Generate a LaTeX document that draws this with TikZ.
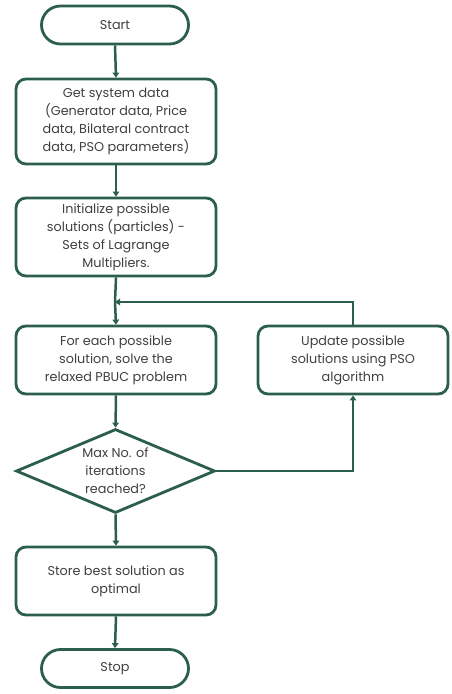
\documentclass[tikz,border=0pt]{standalone}
\usepackage{fontspec}
\setmainfont{Poppins}
\usetikzlibrary{shapes.geometric,arrows.meta}
\definecolor{lc}{HTML}{2B5E4D}
\definecolor{tc}{HTML}{404040}
\tikzset{
  box/.style={draw=lc, line width=2.8pt, rounded corners=10pt, fill=white, text=tc, align=center, minimum width=200pt, inner sep=1pt, font=\fontsize{12.8}{18}\selectfont},
  term/.style={draw=lc, line width=2.8pt, rounded corners=19pt, fill=white, text=tc, align=center, minimum width=147pt, minimum height=38pt, font=\fontsize{12.8}{18}\selectfont},
  dec/.style={draw=lc, line width=2.8pt, diamond, fill=white, minimum width=199pt, minimum height=84pt, inner sep=0pt},
  txt/.style={text=tc, align=center, font=\fontsize{12.8}{18}\selectfont},
  arr/.style={draw=lc, line width=2.5pt, -{Triangle[length=5pt,width=6.5pt]}},
  ln/.style={draw=lc, line width=2.5pt}
}
\begin{document}
\begin{tikzpicture}[x=1pt,y=-1pt]
\useasboundingbox (0,0) rectangle (451,694);
\node[term] (start) at (115,25) {Start};
\node[box, minimum height=85pt] (get) at (116,121.5) {Get system data\\(Generator data, Price\\data, Bilateral contract\\data, PSO parameters)};
\node[box, minimum height=78pt] (init) at (116,237) {Initialize possible\\solutions (particles) -\\Sets of Lagrange\\Multipliers.};
\coordinate (j) at (115,302);
\node[box, minimum height=68pt] (for) at (116,360) {For each possible\\solution, solve the\\relaxed PBUC problem};
\node[box, minimum width=190pt, minimum height=68pt] (upd) at (353,360) {Update possible\\solutions using PSO\\algorithm};
\node[dec] (d) at (115.5,471) {};
\node[txt] (dt) at (d) {Max No. of\\iterations\\reached?};
\node[box, minimum height=68pt] (store) at (116,581) {Store best solution as\\optimal};
\node[term] (stop) at (115,668.5) {Stop};
\draw[arr] (start.south) -- (get.north);
\draw[arr] (get.south) -- (init.north);
\draw[ln] (init.south) -- (j);
\draw[arr] (j) -- (for.north);
\draw[arr] (for.south) -- (d.north);
\draw[arr] (d.east) -| (upd.south);
\draw[arr] (upd.north) |- (j);
\draw[arr] (d.south) -- (store.north);
\draw[arr] (store.south) -- (stop.north);
\end{tikzpicture}
\end{document}
